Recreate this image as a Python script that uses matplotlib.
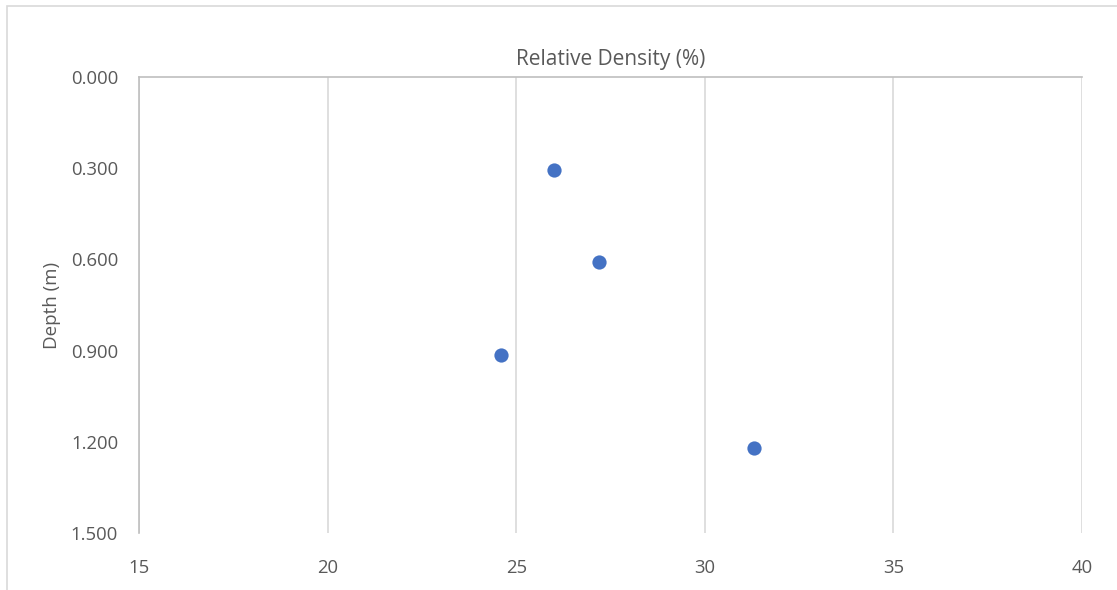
import matplotlib
matplotlib.use("Agg")
import matplotlib.pyplot as plt
from matplotlib.patches import Rectangle

# Relative density vs depth
relative_density = [26.0, 27.2, 24.6, 31.3]
depth_m = [0.305, 0.610, 0.914, 1.219]
x_ticks = [15, 20, 25, 30, 35, 40]
y_ticks = [0.0, 0.3, 0.6, 0.9, 1.2, 1.5]

W, H = 1117, 590
plt.rcParams['font.family'] = ['Open Sans', 'DejaVu Sans']
text_color = '#595959'

fig = plt.figure(figsize=(W / 100, H / 100), dpi=100)
ax = fig.add_axes([139 / W, 1 - 533 / H, (1082 - 139) / W, (533 - 77) / H])

ax.scatter(relative_density, depth_m, s=105, color='#4472C4', zorder=3,
           linewidths=0)

ax.set_xlim(15, 40)
ax.set_ylim(1.5, 0.0)
ax.set_xticks(x_ticks)
ax.set_yticks(y_ticks)
ax.set_yticklabels([f"{v:.3f}" for v in y_ticks])
ax.tick_params(length=0, labelsize=13.3, labelcolor=text_color)
ax.tick_params(axis='y', pad=15)
ax.tick_params(axis='x', pad=19)

ax.grid(axis='x', color='#D9D9D9', linewidth=1.2)
ax.set_axisbelow(True)
for side in ('bottom', 'right'):
    ax.spines[side].set_visible(False)
for side in ('top', 'left'):
    ax.spines[side].set_color('#BFBFBF')
    ax.spines[side].set_linewidth(1.2)

fig.text(611 / W, 1 - 59 / H, 'Relative Density (%)', ha='center',
         va='center', fontsize=15, color=text_color)
fig.text(52 / W, 1 - 305 / H, 'Depth (m)', ha='center', va='center',
         rotation=90, fontsize=13.5, color=text_color)

# Outer chart frame
fig.patches.append(Rectangle((7 / W, -0.05), 1.2, 1 - 6 / H + 0.05,
                             transform=fig.transFigure, fill=False,
                             edgecolor='#D9D9D9', linewidth=1.2))

fig.savefig('out.png', dpi=100, facecolor='white')
